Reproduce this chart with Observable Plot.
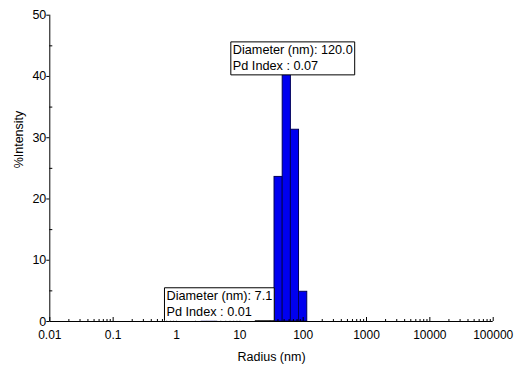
<!DOCTYPE html>
<html><head><meta charset="utf-8">
<script src="https://cdn.jsdelivr.net/npm/d3@7"></script>
<script src="https://cdn.jsdelivr.net/npm/@observablehq/plot@0.6"></script>
<style>body{margin:0;background:#fff}</style>
</head><body><div id="chart"></div>
<script>
// ---- data ----
const binLow    = [2.5, 3.3, 35.3, 47.5, 64, 86];
const binHigh   = [3.3, 4.4, 47.5, 64, 86, 116];
const intensity = [0.2, 0.2, 23.6, 40.5, 31.3, 4.85];
const xTickValues = [0.01, 0.1, 1, 10, 100, 1000, 10000, 100000];
const xMinorFactors = [2, 3, 4, 5, 6, 7, 8, 9];
const yTickValues = [0, 10, 20, 30, 40, 50];
const yMinorValues = [5, 15, 25, 35, 45];
const annotationText = ["Diameter (nm): 120.0\nPd Index : 0.07", "Diameter (nm): 7.1\nPd Index : 0.01"];
const annotationX = [7.75, 0.695];
const annotationY = [45.4, 5.26];
const xLabel = "Radius (nm)";
const yLabel = "%Intensity";

const bins = binLow.map((lo, i) => ({lo, hi: binHigh[i], v: intensity[i]}));
const annots = annotationText.map((t, i) => ({t, x: annotationX[i], y: annotationY[i]}));
const xMinor = xTickValues.slice(0, -1).flatMap(d => xMinorFactors.map(k => k * d));
const x0 = xTickValues[0];
const FS = 12.5, TFS = 12;

const svg = Plot.plot({
  width: 516, height: 366,
  marginLeft: 49.3, marginRight: 23.3, marginTop: 14.7, marginBottom: 45,
  style: {fontFamily: '"Liberation Sans", Arial, sans-serif', fontSize: FS + "px", color: "#000", background: "#fff", overflow: "visible"},
  x: {type: "log", domain: [xTickValues[0], xTickValues[xTickValues.length - 1]]},
  y: {domain: [yTickValues[0], yTickValues[yTickValues.length - 1]]},
  marks: [
    Plot.rectY(bins, {x1: "lo", x2: "hi", y1: 0, y2: "v", fill: "#0000f0", stroke: "#00005a", strokeWidth: 1}),
    Plot.ruleY([0], {stroke: "#000"}),
    Plot.ruleX([x0], {y1: 0, y2: 50, stroke: "#000"}),
    Plot.ruleX(xTickValues, {x: d => d, y1: 0, y2: 0, insetBottom: 4, stroke: "#000"}),
    Plot.ruleX(xMinor, {x: d => d, y1: 0, y2: 0, insetBottom: 2, stroke: "#000"}),
    Plot.ruleY(yMinorValues, {y: d => d, x1: x0, x2: x0, insetRight: -3, stroke: "#000"}),
    Plot.axisX({ticks: xTickValues, tickSize: 0, tickPadding: 9, tickFormat: d => String(d), label: null, fontSize: TFS}),
    Plot.axisY({ticks: yTickValues, tickSize: 3, tickPadding: 0.5, label: null, fontSize: 12.5}),
    Plot.text([yLabel], {frameAnchor: "left", rotate: -90, dx: -31, fontSize: FS}),
    Plot.text([xLabel], {frameAnchor: "bottom", lineAnchor: "bottom", dy: 39, fontSize: FS}),
    Plot.text(annots, {x: "x", y: "y", text: "t", textAnchor: "start", lineAnchor: "top", lineHeight: 1.22, fontSize: 12.7})
  ]
});
document.getElementById("chart").append(svg);

// frame the annotation labels
const NS = "http://www.w3.org/2000/svg";
let k = 0;
svg.querySelectorAll("text").forEach(t => {
  if (!t.textContent.startsWith("Diameter")) return;
  const b = t.getBBox();
  const pad = 2;
  const L = b.x - pad, R = b.x + b.width + pad, T = b.y - pad + 0.5, B = b.y + b.height + pad;
  const bg = document.createElementNS(NS, "rect");
  bg.setAttribute("x", L); bg.setAttribute("y", T);
  bg.setAttribute("width", R - L); bg.setAttribute("height", B - T);
  bg.setAttribute("fill", "#fff");
  if (t.getAttribute("transform")) bg.setAttribute("transform", t.getAttribute("transform"));
  t.parentNode.insertBefore(bg, t);
  const p = document.createElementNS(NS, "path");
  let d;
  if (k === 0) {
    d = `M${L},${T}H${R}V${B}H${L}Z`;
  } else {
    const spans = t.querySelectorAll("tspan");
    const last = spans[spans.length - 1];
    const endX = b.x + (last ? last.getComputedTextLength() : b.width) + 3;
    d = `M${endX},${B}H${R}V${T}H${L}V${B}`;
  }
  p.setAttribute("d", d);
  p.setAttribute("fill", "none"); p.setAttribute("stroke", "#000"); p.setAttribute("stroke-width", 1);
  if (t.getAttribute("transform")) p.setAttribute("transform", t.getAttribute("transform"));
  t.parentNode.insertBefore(p, t);
  k++;
});
</script>
</body></html>
